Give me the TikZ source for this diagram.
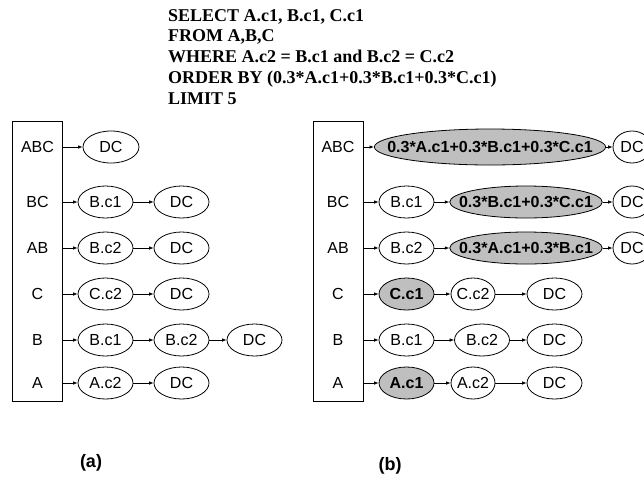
\documentclass[tikz,border=0pt]{standalone}
\usepackage{fontspec}
\setmainfont{Liberation Serif}
\setsansfont{Liberation Sans}
\usetikzlibrary{arrows.meta,shapes.geometric}

\begin{document}
\begin{tikzpicture}[x=1pt,y=-1pt,
        font=\sffamily\fontsize{16}{18}\selectfont,
        tbl/.style={draw, line width=0.8pt, inner sep=0pt, minimum width=50pt, minimum height=280pt},
        lbl/.style={inner sep=0pt, minimum width=50pt},
        cell/.style={draw, ellipse, line width=0.8pt, inner sep=0pt, minimum width=55pt, minimum height=32pt},
        hit/.style={cell, fill=gray!50, font=\sffamily\bfseries\fontsize{16}{18}\selectfont},
        arr/.style={-{Latex[length=4.5pt,width=3.5pt]}, line width=0.7pt}]
            \useasboundingbox (0,0) rectangle (644,480);
            \clip (0,0) rectangle (644,480);
            % query
            \node[anchor=north west, inner sep=0pt, align=left, font=\rmfamily\bfseries\fontsize{18}{20.8}\selectfont] (sql) at (168,9)
                {SELECT A.c1, B.c1, C.c1\\FROM A,B,C\\WHERE A.c2 = B.c1 and B.c2 = C.c2\\ORDER BY (0.3*A.c1+0.3*B.c1+0.3*C.c1)\\LIMIT 5};
            % (a)
            \node[tbl] (taba) at (37.5,261) {};
            \node[lbl] (aABC) at (37.5,147) {ABC};
            \node[lbl] (aBC) at (37.5,202) {BC};
            \node[lbl] (aAB) at (37.5,248) {AB};
            \node[lbl] (aC) at (37.5,294) {C};
            \node[lbl] (aB) at (37.5,340) {B};
            \node[lbl] (aA) at (37.5,383) {A};
            \node[cell, minimum width=56pt] (aABCdc) at (111,147) {DC};
            \node[cell] (aBC1) at (105.5,202) {B.c1};
            \node[cell] (aBCdc) at (181.5,202) {DC};
            \node[cell] (aAB1) at (105.5,248) {B.c2};
            \node[cell] (aABdc) at (181.5,248) {DC};
            \node[cell] (aC1) at (105.5,294) {C.c2};
            \node[cell] (aCdc) at (181.5,294) {DC};
            \node[cell] (aB1) at (105.5,340) {B.c1};
            \node[cell] (aB2) at (181.5,340) {B.c2};
            \node[cell] (aBdc) at (254.5,340) {DC};
            \node[cell] (aA1) at (105.5,383) {A.c2};
            \node[cell] (aAdc) at (181.5,383) {DC};
            \draw[arr] (aABC.east) -- (aABCdc);
            \draw[arr] (aBC.east) -- (aBC1);
            \draw[arr] (aBC1) -- (aBCdc);
            \draw[arr] (aAB.east) -- (aAB1);
            \draw[arr] (aAB1) -- (aABdc);
            \draw[arr] (aC.east) -- (aC1);
            \draw[arr] (aC1) -- (aCdc);
            \draw[arr] (aB.east) -- (aB1);
            \draw[arr] (aB1) -- (aB2);
            \draw[arr] (aB2) -- (aBdc);
            \draw[arr] (aA.east) -- (aA1);
            \draw[arr] (aA1) -- (aAdc);
            \node[font=\sffamily\bfseries\fontsize{18}{20}\selectfont] (capa) at (91,463) {(a)};
            % (b)
            \node[tbl] (tabb) at (338,261) {};
            \node[lbl] (bABC) at (338,147) {ABC};
            \node[lbl] (bBC) at (338,202) {BC};
            \node[lbl] (bAB) at (338,248) {AB};
            \node[lbl] (bC) at (338,294) {C};
            \node[lbl] (bB) at (338,340) {B};
            \node[lbl] (bA) at (338,383) {A};
            \node[hit, inner xsep=-21pt, minimum height=36pt] (bABC1) at (490,147) {0.3*A.c1+0.3*B.c1+0.3*C.c1};
            \node[cell, minimum width=38pt] (bABCdc) at (632,147) {DC};
            \node[cell] (bBC1) at (406.5,202) {B.c1};
            \node[hit, inner xsep=-13pt] (bBC2) at (526,202) {0.3*B.c1+0.3*C.c1};
            \node[cell, minimum width=38pt] (bBCdc) at (632,202) {DC};
            \node[cell] (bAB1) at (406.5,248) {B.c2};
            \node[hit, inner xsep=-13pt] (bAB2) at (526,248) {0.3*A.c1+0.3*B.c1};
            \node[cell, minimum width=38pt] (bABdc) at (632,248) {DC};
            \node[hit] (bC1) at (406.5,294) {C.c1};
            \node[cell, inner xsep=-1.5pt, minimum width=44pt] (bC2) at (473,294) {C.c2};
            \node[cell] (bCdc) at (554.5,294) {DC};
            \node[cell] (bB1) at (406.5,340) {B.c1};
            \node[cell] (bB2) at (482,340) {B.c2};
            \node[cell] (bBdc) at (554.5,340) {DC};
            \node[hit] (bA1) at (406.5,383) {A.c1};
            \node[cell, inner xsep=-1.5pt, minimum width=44pt] (bA2) at (473,383) {A.c2};
            \node[cell] (bAdc) at (554.5,383) {DC};
            \draw[arr] (bABC.east) -- (bABC1);
            \draw[arr] (bABC1) -- (bABCdc);
            \draw[arr] (bBC.east) -- (bBC1);
            \draw[arr] (bBC1) -- (bBC2);
            \draw[arr] (bBC2) -- (bBCdc);
            \draw[arr] (bAB.east) -- (bAB1);
            \draw[arr] (bAB1) -- (bAB2);
            \draw[arr] (bAB2) -- (bABdc);
            \draw[arr] (bC.east) -- (bC1);
            \draw[arr] (bC1) -- (bC2);
            \draw[arr] (bC2) -- (bCdc);
            \draw[arr] (bB.east) -- (bB1);
            \draw[arr] (bB1) -- (bB2);
            \draw[arr] (bB2) -- (bBdc);
            \draw[arr] (bA.east) -- (bA1);
            \draw[arr] (bA1) -- (bA2);
            \draw[arr] (bA2) -- (bAdc);
            \node[font=\sffamily\bfseries\fontsize{18}{20}\selectfont] (capb) at (390,466) {(b)};
        \end{tikzpicture}
\end{document}
